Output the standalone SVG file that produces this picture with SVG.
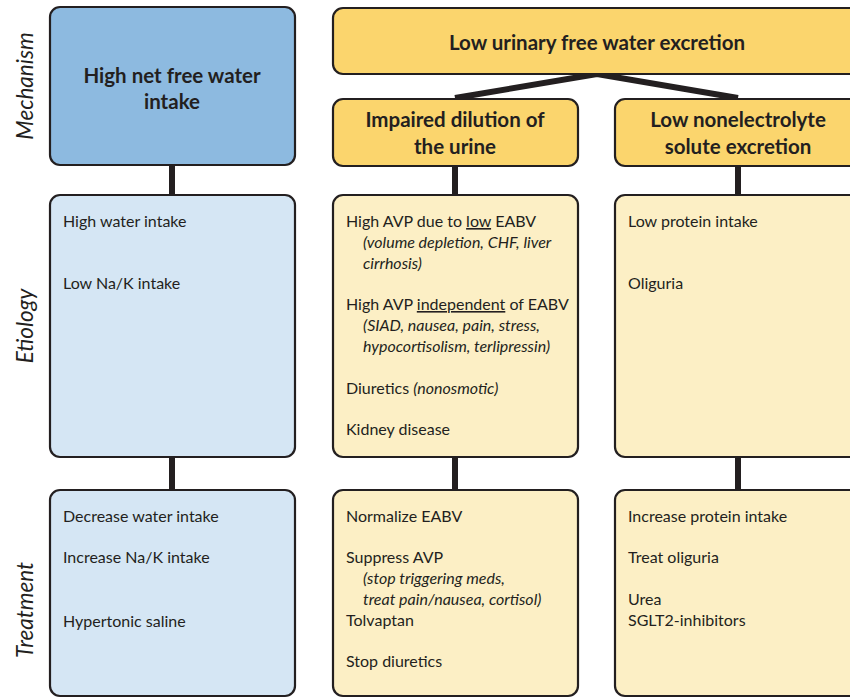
<svg xmlns="http://www.w3.org/2000/svg" width="850" height="698" viewBox="0 0 850 698">
<style>
.box{stroke:#231f20;stroke-width:2.2}
.blueH{fill:#8dbae0}
.blue{fill:#d5e6f4}
.goldH{fill:#fbd56d}
.gold{fill:#fcefc5}
.h{font-family:Lato,"Liberation Sans",sans-serif;font-weight:bold;font-size:20.5px;fill:#231f20;text-anchor:middle}
.t{font-family:Lato,"Liberation Sans",sans-serif;font-size:16px;fill:#231f20}
.i{font-style:italic}
.u{text-decoration:underline}
.row{font-family:Lato,"Liberation Sans",sans-serif;font-style:italic;font-size:22.5px;fill:#231f20;text-anchor:middle}
.con{stroke:#231f20;stroke-width:6;fill:none}
</style>
<rect width="850" height="698" fill="#ffffff"/>
<g id="row-labels">
<text class="row" transform="translate(33,86) rotate(-90)">Mechanism</text>
<text class="row" transform="translate(33,326) rotate(-90)">Etiology</text>
<text class="row" transform="translate(33,610) rotate(-90)">Treatment</text>
</g>
<g id="connectors">
<line class="con" x1="172" y1="165" x2="172" y2="196"/>
<line class="con" x1="172" y1="457" x2="172" y2="491"/>
<line class="con" x1="455" y1="166" x2="455" y2="196"/>
<line class="con" x1="455" y1="457" x2="455" y2="491"/>
<line class="con" x1="738" y1="166" x2="738" y2="196"/>
<line class="con" x1="738" y1="457" x2="738" y2="491"/>
<polyline class="con" points="455,98 597,74 738,98"/>
</g>
<g id="high-net-free-water-intake">
<rect class="box blueH" x="50" y="7" width="245" height="158" rx="10"/>
<text class="h" x="172" y="83">High net free water</text>
<text class="h" x="172" y="109">intake</text>
</g>
<g id="low-urinary-free-water-excretion">
<rect class="box goldH" x="333" y="8" width="530" height="66" rx="10"/>
<text class="h" x="597" y="50">Low urinary free water excretion</text>
</g>
<g id="impaired-dilution">
<rect class="box goldH" x="333" y="99" width="245" height="67" rx="10"/>
<text class="h" x="455" y="127">Impaired dilution of</text>
<text class="h" x="455" y="154">the urine</text>
</g>
<g id="low-nonelectrolyte">
<rect class="box goldH" x="615" y="99" width="250" height="67" rx="10"/>
<text class="h" x="738" y="127">Low nonelectrolyte</text>
<text class="h" x="738" y="154">solute excretion</text>
</g>
<g id="etiology-left">
<rect class="box blue" x="50" y="195" width="245" height="262" rx="10"/>
<text class="t" x="63" y="227">High water intake</text>
<text class="t" x="63" y="289">Low Na/K intake</text>
</g>
<g id="etiology-middle">
<rect class="box gold" x="333" y="195" width="245" height="262" rx="10"/>
<text class="t" x="346" y="227">High AVP due to <tspan class="u">low</tspan> EABV</text>
<text class="t i" x="363" y="248">(volume depletion, CHF, liver</text>
<text class="t i" x="363" y="269">cirrhosis)</text>
<text class="t" x="346" y="310">High AVP <tspan class="u">independent</tspan> of EABV</text>
<text class="t i" x="363" y="331">(SIAD, nausea, pain, stress,</text>
<text class="t i" x="363" y="352">hypocortisolism, terlipressin)</text>
<text class="t" x="346" y="394">Diuretics <tspan class="i">(nonosmotic)</tspan></text>
<text class="t" x="346" y="435">Kidney disease</text>
</g>
<g id="etiology-right">
<rect class="box gold" x="615" y="195" width="250" height="262" rx="10"/>
<text class="t" x="628" y="227">Low protein intake</text>
<text class="t" x="628" y="289">Oliguria</text>
</g>
<g id="treatment-left">
<rect class="box blue" x="50" y="490" width="245" height="206" rx="10"/>
<text class="t" x="63" y="522">Decrease water intake</text>
<text class="t" x="63" y="563">Increase Na/K intake</text>
<text class="t" x="63" y="627">Hypertonic saline</text>
</g>
<g id="treatment-middle">
<rect class="box gold" x="333" y="490" width="245" height="206" rx="10"/>
<text class="t" x="346" y="522">Normalize EABV</text>
<text class="t" x="346" y="563">Suppress AVP</text>
<text class="t i" x="363" y="584">(stop triggering meds,</text>
<text class="t i" x="363" y="605">treat pain/nausea, cortisol)</text>
<text class="t" x="346" y="626">Tolvaptan</text>
<text class="t" x="346" y="667">Stop diuretics</text>
</g>
<g id="treatment-right">
<rect class="box gold" x="615" y="490" width="250" height="206" rx="10"/>
<text class="t" x="628" y="522">Increase protein intake</text>
<text class="t" x="628" y="563">Treat oliguria</text>
<text class="t" x="628" y="605">Urea</text>
<text class="t" x="628" y="626">SGLT2-inhibitors</text>
</g>
</svg>
